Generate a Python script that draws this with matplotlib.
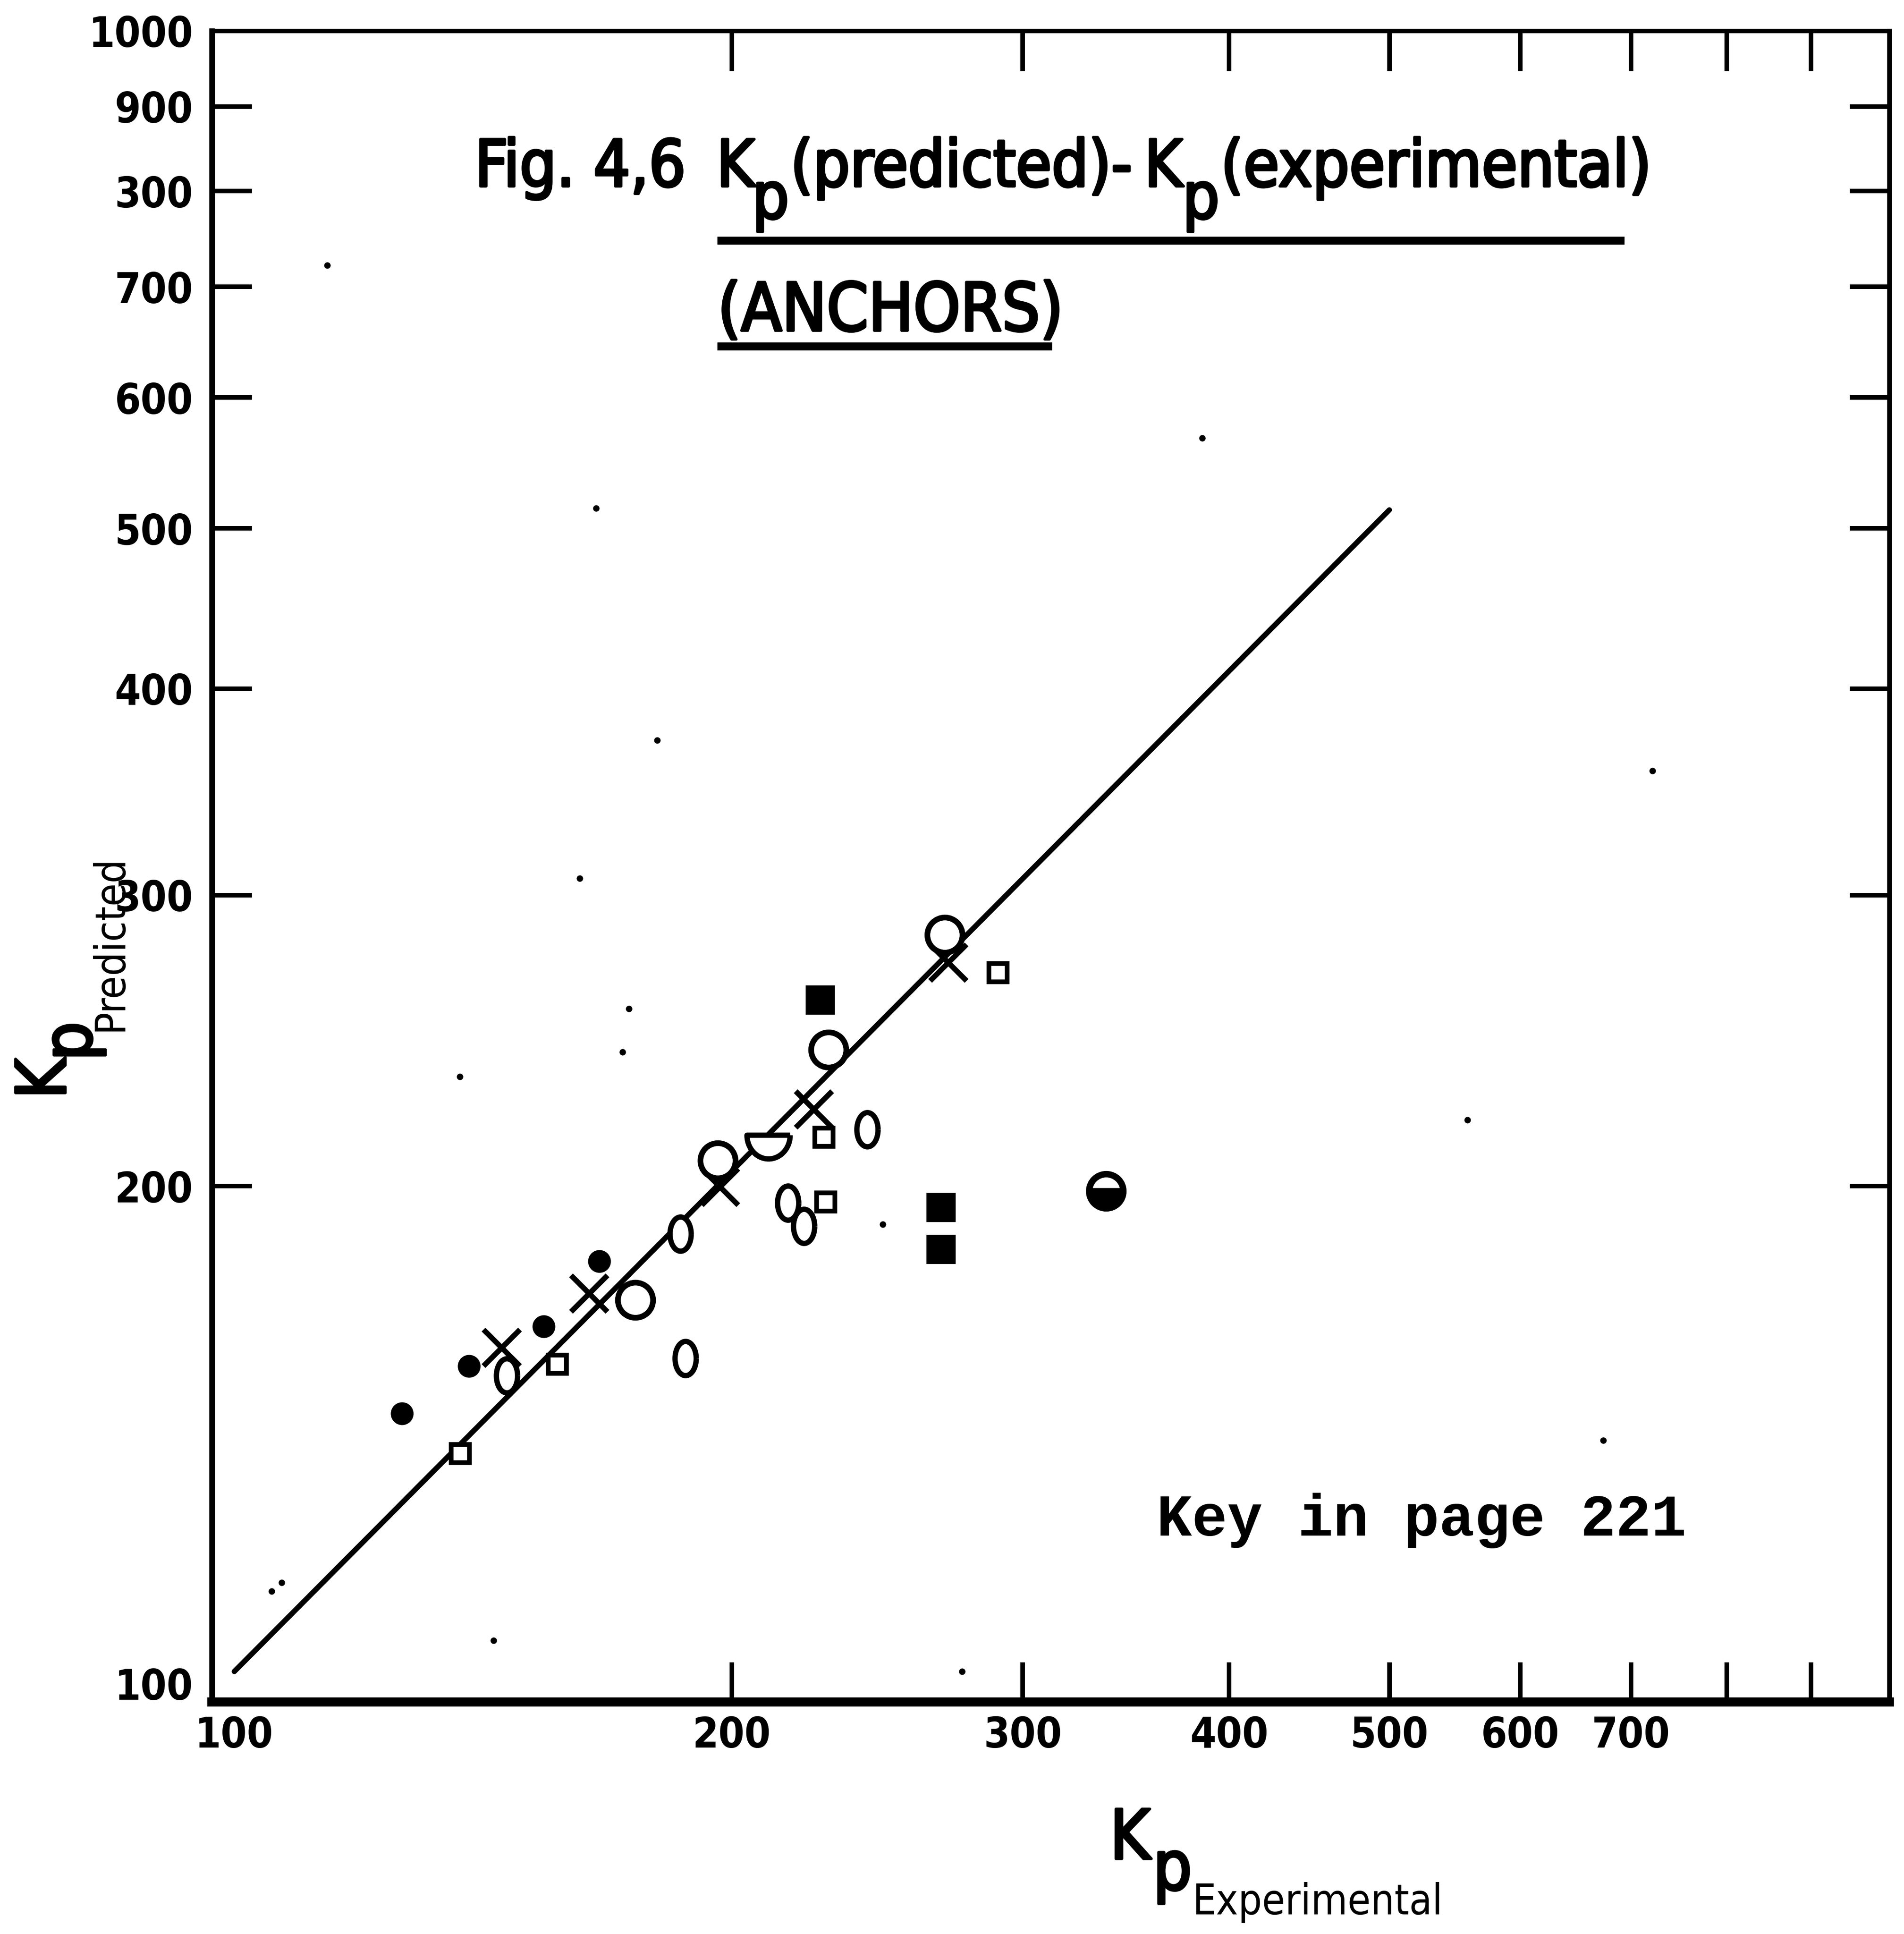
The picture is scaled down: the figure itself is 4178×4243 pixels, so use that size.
import numpy as np
import matplotlib
matplotlib.use("Agg")
import matplotlib.pyplot as plt
import matplotlib.patheffects as pe
from matplotlib.lines import Line2D

plt.rcParams["font.family"] = "DejaVu Sans"
LETTER = dict(family="DejaVu Sans", fontstretch="condensed", color="black")
HEAVY = [pe.withStroke(linewidth=1.4, foreground="black")]
TYPE = dict(family="Liberation Mono", weight="bold", color="black")

# =========================
# Data: Kp(predicted) vs Kp(experimental), anchors
# =========================
x_ticks = [200, 300, 400, 500, 600, 700, 800, 900]
x_tick_labels = ["200", "300", "400", "500", "600", "700", "", ""]
y_ticks = [200, 300, 400, 500, 600, 700, 800, 900]
y_tick_labels = ["200", "300", "400", "500", "600", "700", "300", "900"]

fit_x = [100, 500]
fit_y = [101.7, 513]

dot_x = [126.3, 138.7, 153.9, 166.3]
dot_y = [145.7, 155.6, 164.5, 180.1]

cross_x = [145.2, 164.0, 196.8, 224.2, 270.5]
cross_y = [159.6, 172.2, 199.8, 222.5, 273.0]

ring_x = [174.8, 196.1, 228.9, 269.1]
ring_y = [170.7, 207.3, 241.9, 283.8]

half_x = [337.0]
half_y = [198.6]

bowl_x = [210.4]
bowl_y = [214.8]

box_x = [137.0, 156.8, 227.4, 228.0, 289.9]
box_y = [137.8, 156.0, 214.1, 195.6, 269.2]

oval_x = [146.2, 187.5, 186.2, 216.3, 221.2, 241.5]
oval_y = [153.6, 157.3, 187.1, 195.4, 189.1, 216.4]

solid_x = [226.2, 267.7, 267.7]
solid_y = [259.1, 194.1, 183.1]

# dust on the sheet
speck_x = [165.5, 161.8, 173.3, 171.8, 136.9, 180.3, 385.3, 113.8, 721.5,
           557.5, 105.3, 106.8, 143.5, 246.9, 275.6, 673.4]
speck_y = [514.2, 307.1, 256.0, 241.0, 232.9, 372.3, 567.1, 721.5, 356.6,
           219.3, 113.7, 115.1, 106.2, 189.6, 101.7, 140.3]

# =========================
# Figure layout (1544 x 1568 grid)
# =========================
GW, GH = 1544.0, 1568.0


def gx(px):
    return px / GW


def gy(py):
    return 1.0 - py / GH


fig = plt.figure(figsize=(4178 / 300, 4243 / 300), dpi=300)
fig.patch.set_facecolor("white")
ax = fig.add_axes([gx(172), gy(1380), (1532 - 172) / GW, (1380 - 25) / GH])
ax.set_xscale("log")
ax.set_yscale("log")
ax.set_xlim(96.95, 1003.4)
ax.set_ylim(97.45, 1000)

# marker shapes
t = np.linspace(0, np.pi, 40)
bowl_marker = np.column_stack([np.cos(t), -1.1 * np.sin(t)])
bowl_marker = np.vstack([bowl_marker, bowl_marker[:1]])
u = np.linspace(0, 2 * np.pi, 60)
oval_marker = np.column_stack([0.62 * np.cos(u), np.sin(u)])

# fitted line, hidden behind the open symbols
ax.plot(fit_x, fit_y, color="black", lw=2.8, solid_capstyle="round", zorder=2)

ax.plot(speck_x, speck_y, "o", ms=2.4, color="black", zorder=1)
ax.plot(dot_x, dot_y, "o", ms=11, color="black", zorder=4)
ax.plot(cross_x, cross_y, "x", ms=19, mew=2.8, color="black", zorder=3)
ax.plot(ring_x, ring_y, "o", ms=18.5, mew=3.0, mfc="white", mec="black", zorder=5)
ax.plot(half_x, half_y, "o", ms=18, mew=3.4, fillstyle="bottom", mfc="black",
        mfcalt="white", mec="black", zorder=5)
ax.plot(bowl_x, bowl_y, marker=bowl_marker, ls="none", ms=25, mew=2.8,
        mfc="white", mec="black", zorder=5)
ax.plot(box_x, box_y, "s", ms=9.5, mew=2.5, mfc="white", mec="black", zorder=5)
ax.plot(oval_x, oval_y, marker=oval_marker, ls="none", ms=18, mew=2.8,
        mfc="white", mec="black", zorder=5)
ax.plot(solid_x, solid_y, "s", ms=14, mew=1.5, color="black", zorder=5)

# axes frame and ticks
for side, lw in [("left", 3.0), ("top", 2.3), ("right", 2.6), ("bottom", 4.8)]:
    ax.spines[side].set_linewidth(lw)
    ax.spines[side].set_color("black")

ax.set_xticks(x_ticks)
ax.set_xticklabels(x_tick_labels)
ax.set_xticks([100], minor=True)
ax.set_xticklabels(["100"], minor=True)
ax.set_yticks(y_ticks)
ax.set_yticklabels(y_tick_labels)
ax.set_yticks([100, 1000], minor=True)
ax.set_yticklabels(["100", "1000"], minor=True)

ax.tick_params(which="major", direction="in", length=21, width=2.4,
               top=True, bottom=True, left=True, right=True)
ax.tick_params(which="minor", length=0)
ax.tick_params(axis="x", which="both", pad=7)
ax.tick_params(axis="y", which="both", pad=10)
for lab in ax.get_xticklabels(which="both") + ax.get_yticklabels(which="both"):
    lab.set_fontsize(22)
    lab.set_fontstretch("condensed")
    lab.set_fontweight("bold")

# title block
ts = 34
base = 151
fig.text(gx(385), gy(base), "Fig. 4,6", fontsize=ts, va="baseline", path_effects=HEAVY, **LETTER)
fig.text(gx(581), gy(base), "K", fontsize=ts, va="baseline", path_effects=HEAVY, **LETTER)
fig.text(gx(610), gy(177), "p", fontsize=ts, va="baseline", path_effects=HEAVY, **LETTER)
fig.text(gx(641), gy(base), "(predicted)-", fontsize=ts, va="baseline", path_effects=HEAVY, **LETTER)
fig.text(gx(928), gy(base), "K", fontsize=ts, va="baseline", path_effects=HEAVY, **LETTER)
fig.text(gx(959), gy(177), "p", fontsize=ts, va="baseline", path_effects=HEAVY, **LETTER)
fig.text(gx(990), gy(base), "(experimental)", fontsize=ts, va="baseline", path_effects=HEAVY, **LETTER)
fig.text(gx(582), gy(268), "(ANCHORS)", fontsize=35, va="baseline", path_effects=HEAVY, **LETTER)
fig.add_artist(Line2D([gx(585), gx(1314)], [gy(195), gy(195)], color="black",
                      lw=4.2, transform=fig.transFigure))
fig.add_artist(Line2D([gx(585), gx(850)], [gy(281), gy(281)], color="black",
                      lw=4.2, transform=fig.transFigure))

# typed note
fig.text(gx(938), gy(1245), "Key in page 221", fontsize=31, va="baseline", **TYPE)

# axis titles
fig.text(gx(900), gy(1507), "K", fontsize=36, va="baseline", path_effects=HEAVY, **LETTER)
fig.text(gx(935), gy(1532), "p", fontsize=36, va="baseline", path_effects=HEAVY, **LETTER)
fig.text(gx(967), gy(1552), "Experimental", fontsize=22, va="baseline", **LETTER)

fig.text(gx(53), gy(891), "K", fontsize=36, rotation=90, rotation_mode="anchor",
         ha="left", va="baseline", path_effects=HEAVY, **LETTER)
fig.text(gx(74), gy(860), "p", fontsize=36, rotation=90, rotation_mode="anchor",
         ha="left", va="baseline", path_effects=HEAVY, **LETTER)
fig.text(gx(99), gy(836), "Predicted", fontsize=22, rotation=90, rotation_mode="anchor",
         ha="left", va="baseline", **LETTER)

fig.savefig("out.png", dpi=300, facecolor="white")
